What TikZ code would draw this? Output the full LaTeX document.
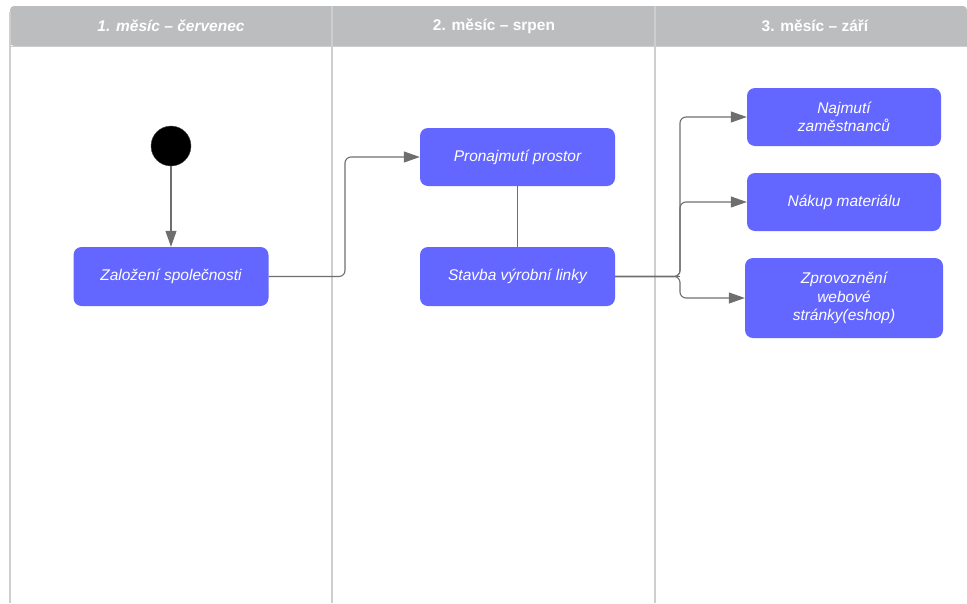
\documentclass[tikz,border=0pt]{standalone}
\usepackage{fontspec}
\setmainfont{Liberation Sans}
\usetikzlibrary{arrows.meta}
\definecolor{boxblue}{RGB}{99,102,255}
\definecolor{hdrgray}{RGB}{188,189,191}
\definecolor{lanegray}{RGB}{206,206,206}
\definecolor{linkgray}{RGB}{110,110,110}
\begin{document}
\begin{tikzpicture}[x=1pt,y=-1pt,
  task/.style={draw=none,fill=boxblue,rounded corners=8pt,text=white,
    font=\fontsize{15.5}{18.5}\selectfont\itshape,align=center,inner sep=0pt},
  hdr/.style={text=white,font=\fontsize{15.5}{17}\selectfont\bfseries},
  lane/.style={draw=lanegray,line width=1.6pt},
  link/.style={draw=linkgray,line width=1.1pt,rounded corners=6pt},
  arr/.style={link,-{Triangle[length=16pt,width=11pt]}}]
\useasboundingbox (0,0) rectangle (967,603);
% header band
\fill[hdrgray,rounded corners=4pt] (10,6) -- (967,6) -- (967,46) -- (10,46) -- cycle;
\fill[hdrgray] (14,20) rectangle (967,46);
\draw[lanegray,line width=1.6pt] (10,46.5) -- (967,46.5);
% lanes
\draw[lane] (10,12) -- (10,603);
\draw[lane] (332,6) -- (332,603);
\draw[lane] (655,6) -- (655,603);
\node[hdr,font=\fontsize{15.5}{17}\selectfont\bfseries\itshape] (h1) at (171,26) {1. měsíc – červenec};
\node[hdr] (h2) at (494,26) {2. měsíc – srpen};
\node[hdr] (h3) at (815,26) {3. měsíc – září};
% start
\node[circle,fill=black,draw=black!70,minimum size=40pt,inner sep=0pt] (start) at (171,146) {};
% tasks
\node[task,minimum width=195pt,minimum height=59pt] (b1) at (171,276.5) {Založení společnosti};
\node[task,minimum width=195pt,minimum height=58pt] (b2) at (517.5,157) {Pronajmutí prostor};
\node[task,minimum width=195pt,minimum height=59pt] (b3) at (517.5,276.5) {Stavba výrobní linky};
\node[task,minimum width=194pt,minimum height=58pt] (b4) at (844,117) {Najmutí\\zaměstnanců};
\node[task,minimum width=194pt,minimum height=58pt] (b5) at (844,202) {Nákup materiálu};
\node[task,minimum width=198pt,minimum height=80pt] (b6) at (844,298) {Zprovoznění\\webové\\stránky(eshop)};
% connectors
\draw[arr,rounded corners=0pt] (start) -- (b1);
\draw[arr] (b1.east) -- (345,276.5) -- (345,157) -- (b2.west);
\draw[link] (b2) -- (b3);
\coordinate (fork) at (680,276.5);
\draw[link,line width=1.4pt] (b3.east) -- (fork);
\draw[arr] (b3.east) -- (680,276.5) -- (680,117) -- (b4.west);
\draw[arr] (b3.east) -- (680,276.5) -- (680,202) -- (b5.west);
\draw[arr] (b3.east) -- (680,276.5) -- (680,298) -- (b6.west);
\end{tikzpicture}
\end{document}
